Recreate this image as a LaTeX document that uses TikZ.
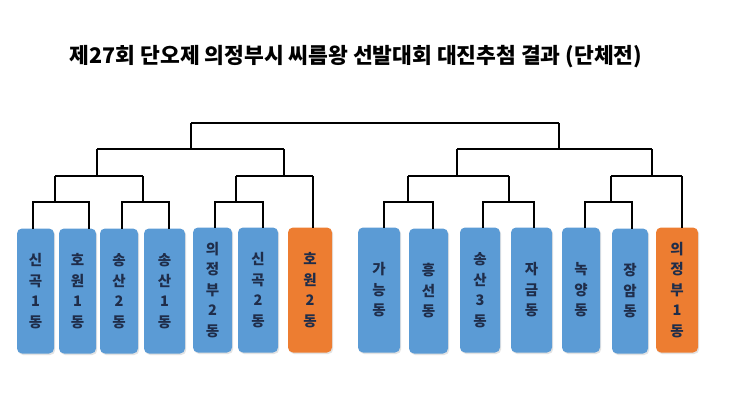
\documentclass[tikz,border=0pt]{standalone}
\usepackage{fontspec}
\newfontfamily\krb{Noto Sans CJK KR Black}
\usetikzlibrary{shadows}
\definecolor{boxblue}{HTML}{5B9BD5}
\definecolor{boxorange}{HTML}{ED7D31}
\definecolor{boxtext}{HTML}{1F2D4A}
\begin{document}
\begin{tikzpicture}[x=1pt,y=-1pt,
  box/.style={rounded corners=5pt, inner sep=0pt, outer sep=0pt, minimum height=125pt,
    align=center, text=boxtext, font=\krb\fontsize{14.5}{20.5}\selectfont,
    drop shadow={opacity=0.22, shadow xshift=1.2pt, shadow yshift=-1.5pt}},
  bluebox/.style={box, fill=boxblue},
  orangebox/.style={box, fill=boxorange},
  br/.style={draw=black, line width=2.3pt}]
\useasboundingbox (0,0) rectangle (730,410);
\fill[white] (0,0) rectangle (730,410);

\node[font=\krb\fontsize{21.5}{24}\selectfont] (title) at (356,57) {제27회 단오제 의정부시 씨름왕 선발대회 대진추첨 결과 (단체전)};

% boxes
\node[bluebox, minimum width=37pt] (b1) at (35.5,291) {신\\곡\\1\\동};
\node[bluebox, minimum width=37pt] (b2) at (77.5,291) {호\\원\\1\\동};
\node[bluebox, minimum width=38pt] (b3) at (119,291) {송\\산\\2\\동};
\node[bluebox, minimum width=41pt] (b4) at (164.5,291) {송\\산\\1\\동};
\node[bluebox, minimum width=39pt] (b5) at (212.5,290) {의\\정\\부\\2\\동};
\node[bluebox, minimum width=40pt] (b6) at (258,290) {신\\곡\\2\\동};
\node[orangebox, minimum width=44pt] (b7) at (310,290) {호\\원\\2\\동};
\node[bluebox, minimum width=42pt] (b8) at (379,290) {가\\능\\동};
\node[bluebox, minimum width=39pt] (b9) at (428.5,291) {흥\\선\\동};
\node[bluebox, minimum width=40pt] (b10) at (480,290) {송\\산\\3\\동};
\node[bluebox, minimum width=41pt] (b11) at (531.5,290) {자\\금\\동};
\node[bluebox, minimum width=38pt] (b12) at (581,290) {녹\\양\\동};
\node[bluebox, minimum width=36pt] (b13) at (630,291) {장\\암\\동};
\node[orangebox, minimum width=42pt] (b14) at (677,290) {의\\정\\부\\1\\동};

% leaf attachment points
\coordinate (t1) at (33,0 |- b1.north);
\coordinate (t2) at (89,0 |- b2.north);
\coordinate (t3) at (122,0 |- b3.north);
\coordinate (t4) at (169,0 |- b4.north);
\coordinate (t5) at (215,0 |- b5.north);
\coordinate (t6) at (263,0 |- b6.north);
\coordinate (t7) at (313,0 |- b7.north);
\coordinate (t8) at (384,0 |- b8.north);
\coordinate (t9) at (433,0 |- b9.north);
\coordinate (t10) at (483,0 |- b10.north);
\coordinate (t11) at (534,0 |- b11.north);
\coordinate (t12) at (585,0 |- b12.north);
\coordinate (t13) at (632,0 |- b13.north);
\coordinate (t14) at (682,0 |- b14.north);

% junctions
\coordinate (A) at (55,202);  \coordinate (Au) at (55,176);
\coordinate (B) at (143,202); \coordinate (Bu) at (143,176);
\coordinate (C) at (236,202); \coordinate (Cu) at (236,176);
\coordinate (S7) at (313,176);
\coordinate (E) at (97,176);  \coordinate (Eu) at (97,149);
\coordinate (F) at (284,176); \coordinate (Fu) at (284,149);
\coordinate (G) at (191,149); \coordinate (Gu) at (191,123);

\coordinate (H) at (408,202); \coordinate (Hu) at (408,176);
\coordinate (I) at (509,202); \coordinate (Iu) at (509,176);
\coordinate (K) at (611,202); \coordinate (Ku) at (611,176);
\coordinate (S14) at (682,176);
\coordinate (J) at (457,176); \coordinate (Ju) at (457,149);
\coordinate (L) at (652,176); \coordinate (Lu) at (652,149);
\coordinate (M) at (559,149); \coordinate (Mu) at (559,123);

% brackets left
\draw[br] (t1) |- (A) -| (t2);  \draw[br] (A) -- (Au);
\draw[br] (t3) |- (B) -| (t4);  \draw[br] (B) -- (Bu);
\draw[br] (t5) |- (C) -| (t6);  \draw[br] (C) -- (Cu);
\draw[br] (t7) -- (S7);
\draw[br] (Au) -- (Bu);  \draw[br] (E) -- (Eu);
\draw[br] (Cu) -- (S7);  \draw[br] (F) -- (Fu);
\draw[br] (Eu) -- (Fu);  \draw[br] (G) -- (Gu);
% brackets right
\draw[br] (t8) |- (H) -| (t9);   \draw[br] (H) -- (Hu);
\draw[br] (t10) |- (I) -| (t11); \draw[br] (I) -- (Iu);
\draw[br] (t12) |- (K) -| (t13); \draw[br] (K) -- (Ku);
\draw[br] (t14) -- (S14);
\draw[br] (Hu) -- (Iu);  \draw[br] (J) -- (Ju);
\draw[br] (Ku) -- (S14); \draw[br] (L) -- (Lu);
\draw[br] (Ju) -- (Lu);  \draw[br] (M) -- (Mu);
% final
\draw[br] (Gu) -- (Mu);
\end{tikzpicture}
\end{document}
